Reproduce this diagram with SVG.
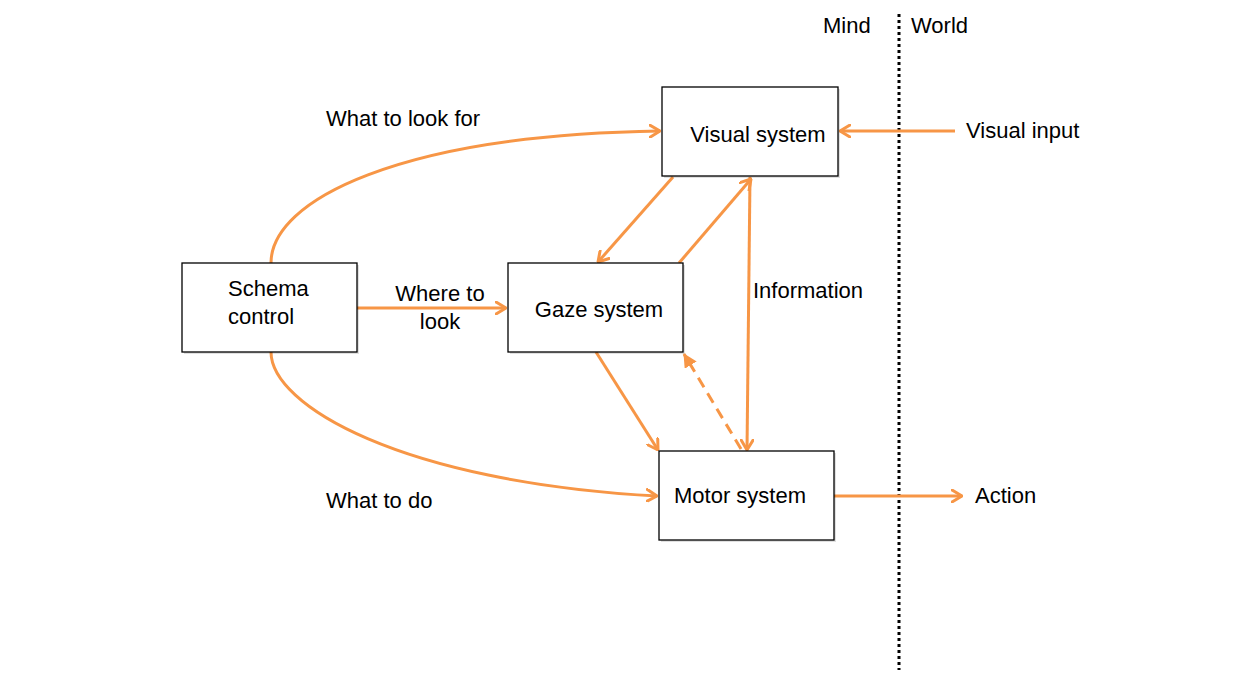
<svg xmlns="http://www.w3.org/2000/svg" width="1247" height="687" viewBox="0 0 1247 687">
  <style>
    .box { fill: #ffffff; stroke: #000000; stroke-width: 1.3; }
    .shadow { fill: #000000; opacity: 0.12; }
    .lbl { font-family: "Liberation Sans", Arial, sans-serif; font-size: 22px; fill: #000000; }
    .conn { fill: none; stroke: #F79646; stroke-width: 3; }
  </style>
  <defs>
    <marker id="open" viewBox="0 0 12 14" refX="11" refY="7" markerWidth="12" markerHeight="14" markerUnits="userSpaceOnUse" orient="auto">
      <path d="M1,1 L11,7 L1,13" fill="none" stroke="#F79646" stroke-width="3" stroke-linecap="round" stroke-linejoin="round"/>
    </marker>
    <marker id="tri" viewBox="0 0 14 14" refX="13" refY="7" markerWidth="14" markerHeight="14" markerUnits="userSpaceOnUse" orient="auto">
      <path d="M0,0 L14,7 L0,14 Z" fill="#F79646"/>
    </marker>
  </defs>
  <rect width="1247" height="687" fill="#ffffff"/>

  <!-- Mind / World divider -->
  <g id="divider">
    <line x1="899" y1="14" x2="899" y2="670" stroke="#000000" stroke-width="3" stroke-dasharray="3 3"/>
    <text class="lbl" x="823" y="33">Mind</text>
    <text class="lbl" x="911" y="33">World</text>
  </g>

  <!-- Connectors -->
  <g id="connectors">
    <path class="conn" d="M271,263 C271,200 400,135 660,131" marker-end="url(#open)"/>
    <path class="conn" d="M271,352 C271,405 400,482 657,496" marker-end="url(#open)"/>
    <line class="conn" x1="357" y1="308" x2="506" y2="308" marker-end="url(#open)"/>
    <line class="conn" x1="673" y1="177" x2="598" y2="262" marker-end="url(#open)"/>
    <line class="conn" x1="679" y1="263" x2="751" y2="179" marker-end="url(#open)"/>
    <line class="conn" x1="750" y1="177" x2="747" y2="450" marker-end="url(#open)"/>
    <line class="conn" x1="596" y1="352" x2="658" y2="450" marker-end="url(#open)"/>
    <line class="conn" x1="741" y1="449" x2="684" y2="354" stroke-dasharray="11 7" marker-end="url(#tri)"/>
    <line class="conn" x1="955" y1="131" x2="840" y2="131" marker-end="url(#open)"/>
    <line class="conn" x1="834" y1="496" x2="962" y2="496" marker-end="url(#open)"/>
  </g>

  <g id="visual-system">
    <rect class="shadow" x="664" y="89" width="176" height="89"/>
    <rect class="box" x="662" y="87" width="176" height="89"/>
    <text class="lbl" x="758" y="142" text-anchor="middle">Visual system</text>
  </g>
  <g id="gaze-system">
    <rect class="shadow" x="510" y="265" width="175" height="89"/>
    <rect class="box" x="508" y="263" width="175" height="89"/>
    <text class="lbl" x="599" y="317" text-anchor="middle">Gaze system</text>
  </g>
  <g id="motor-system">
    <rect class="shadow" x="661" y="453" width="175" height="89"/>
    <rect class="box" x="659" y="451" width="175" height="89"/>
    <text class="lbl" x="740" y="503" text-anchor="middle">Motor system</text>
  </g>
  <g id="schema-control">
    <rect class="shadow" x="184" y="265" width="175" height="89"/>
    <rect class="box" x="182" y="263" width="175" height="89"/>
    <text class="lbl" x="228" y="296">Schema</text>
    <text class="lbl" x="228" y="324">control</text>
  </g>

  <g id="labels">
    <text class="lbl" x="440" y="301" text-anchor="middle">Where to</text>
    <text class="lbl" x="440" y="329" text-anchor="middle">look</text>
    <text class="lbl" x="326" y="126">What to look for</text>
    <text class="lbl" x="753" y="298">Information</text>
    <text class="lbl" x="326" y="508">What to do</text>
    <text class="lbl" x="966" y="138">Visual input</text>
    <text class="lbl" x="975" y="503">Action</text>
  </g>
</svg>
